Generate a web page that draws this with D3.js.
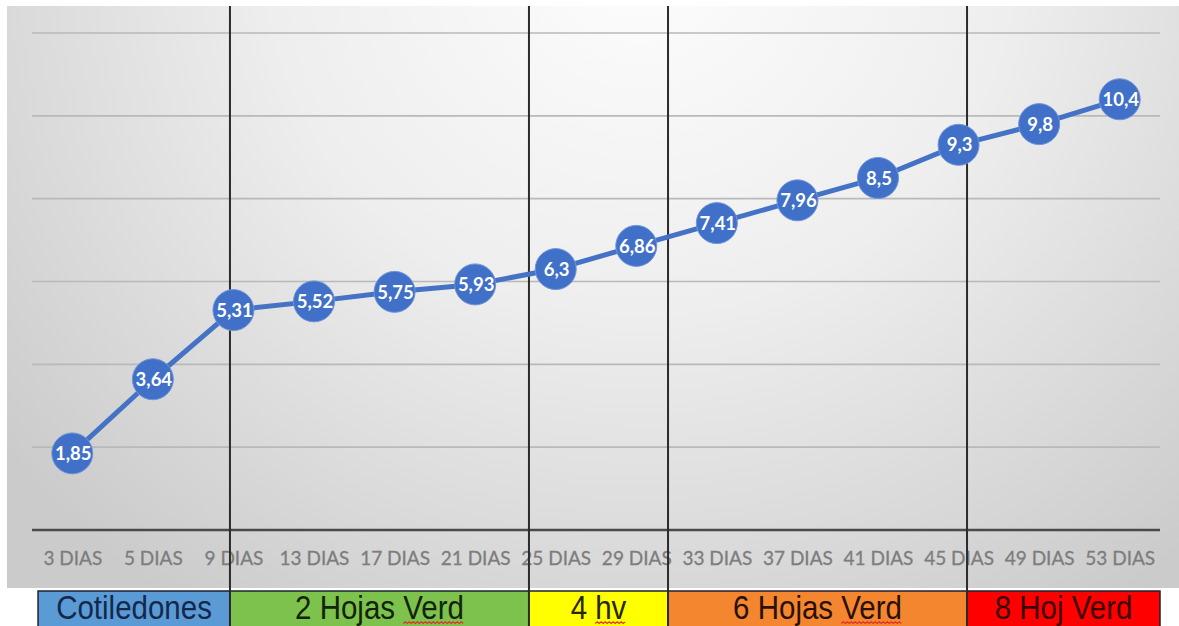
<!DOCTYPE html>
<html>
<head>
<meta charset="utf-8">
<script src="https://cdn.jsdelivr.net/npm/d3@7"></script>
<style>
  html, body { margin: 0; padding: 0; background: #ffffff; }
  svg { display: block; }
</style>
</head>
<body>
<svg id="chart" width="1179" height="626"></svg>
<script>
// Sampling days and plant height per sample
const categories = ["3 DIAS", "5 DIAS", "9 DIAS", "13 DIAS", "17 DIAS", "21 DIAS", "25 DIAS",
                    "29 DIAS", "33 DIAS", "37 DIAS", "41 DIAS", "45 DIAS", "49 DIAS", "53 DIAS"];
const values = [1.85, 3.64, 5.31, 5.52, 5.75, 5.93, 6.3, 6.86, 7.41, 7.96, 8.5, 9.3, 9.8, 10.4];
const yTicks = [0, 2, 4, 6, 8, 10, 12];

// Phenological stages (boundaries given in category-index units)
const stageNames = ["Cotiledones", "2 Hojas Verd", "4 hv", "6 Hojas Verd", "8 Hoj Verd"];
const stageStart = [-0.425, 1.957, 5.668, 7.394, 11.105];
const stageEnd = [1.957, 5.668, 7.394, 11.105, 13.5];
const stageColors = ["#5b9bd5", "#7cc24c", "#ffff00", "#f4862f", "#ff0000"];
const stageTextColors = ["#13294b", "#14230c", "#262600", "#2a1000", "#3a0000"];
// words flagged by the spell checker (stage index, word)
const flaggedWords = [[1, "Verd"], [2, "hv"], [3, "Verd"]];

const svg = d3.select("#chart");
const W = 1179, H = 626;

const plotLeft = 32, plotRight = 1160, plotTop = 33, plotBottom = 530;

const x = d3.scalePoint().domain(categories).range([plotLeft, plotRight]).padding(0.5);
const step = x.step();
// continuous index -> pixel, consistent with the point scale
const xi = d3.scaleLinear().domain([0, 1]).range([x(categories[0]), x(categories[0]) + step]);
const y = d3.scaleLinear().domain([0, 12]).range([plotBottom, plotTop]);

// Background panel gradient
const defs = svg.append("defs");
const grad = defs.append("radialGradient")
  .attr("id", "bg").attr("gradientUnits", "userSpaceOnUse")
  .attr("cx", 640).attr("cy", -40).attr("r", 820)
  .attr("gradientTransform", "translate(640,-40) scale(1,0.95) translate(-640,40)");
grad.append("stop").attr("offset", 0).attr("stop-color", "#fdfdfd");
grad.append("stop").attr("offset", 0.45).attr("stop-color", "#eeeeee");
grad.append("stop").attr("offset", 1).attr("stop-color", "#cbcbcb");

svg.append("rect")
  .attr("x", 7).attr("y", 6).attr("width", W - 7).attr("height", 582)
  .attr("fill", "url(#bg)");

// Horizontal gridlines
svg.append("g")
  .selectAll("line")
  .data(yTicks.filter(d => d > 0))
  .join("line")
  .attr("x1", plotLeft).attr("x2", plotRight)
  .attr("y1", d => y(d)).attr("y2", d => y(d))
  .attr("stroke", "#b9b9b9").attr("stroke-width", 1.6);

// Category axis
const xAxis = svg.append("g")
  .attr("transform", `translate(0,${plotBottom})`)
  .call(d3.axisBottom(x).tickSize(0).tickPadding(0));
xAxis.select(".domain")
  .attr("d", `M${plotLeft},0H${plotRight}`)
  .attr("stroke", "#4a4a4a").attr("stroke-width", 2.6);
xAxis.selectAll(".tick text")
  .attr("y", 35).attr("dy", null)
  .attr("fill", "#7d7d7d")
  .attr("font-family", "Lato, 'Open Sans', sans-serif")
  .attr("font-size", 19)
  .attr("stroke", "#7d7d7d").attr("stroke-width", 0.3);

// Stage band
const bandTop = 591, bandBottom = 628;
const band = svg.append("g");
band.selectAll("rect")
  .data(stageNames)
  .join("rect")
  .attr("x", (d, i) => xi(stageStart[i]))
  .attr("y", bandTop)
  .attr("width", (d, i) => xi(stageEnd[i]) - xi(stageStart[i]))
  .attr("height", bandBottom - bandTop)
  .attr("fill", (d, i) => stageColors[i])
  .attr("stroke", "#1e2230").attr("stroke-width", 1.5);

const bandText = band.selectAll("text")
  .data(stageNames)
  .join("text")
  .attr("transform", (d, i) => `translate(${(xi(stageStart[i]) + xi(stageEnd[i])) / 2},619) scale(1,1.1)`)
  .attr("text-anchor", "middle")
  .attr("font-family", "'Liberation Sans', Arial, sans-serif")
  .attr("font-size", 29.5)
  .attr("fill", (d, i) => stageTextColors[i])
  .text(d => d);

// Red wavy spell-check underlines
bandText.each(function(d, i) {
  const node = this;
  flaggedWords.filter(f => f[0] === i).forEach(f => {
    const start = d.lastIndexOf(f[1]);
    const total = node.getComputedTextLength();
    const pre = node.getSubStringLength(0, start);
    const len = node.getSubStringLength(start, f[1].length);
    const cx = (xi(stageStart[i]) + xi(stageEnd[i])) / 2;
    const x0 = cx - total / 2 + pre;
    const x1 = x0 + len;
    let p = `M${x0},623.5`;
    let k = 0;
    for (let xx = x0 + 2; xx <= x1; xx += 2, k++) {
      p += `L${xx},${k % 2 === 0 ? 621.8 : 623.5}`;
    }
    band.append("path").attr("d", p).attr("fill", "none")
      .attr("stroke", "#e0302a").attr("stroke-width", 1.1);
  });
});

// Stage divider lines
svg.append("g")
  .selectAll("line")
  .data(stageStart.slice(1))
  .join("line")
  .attr("x1", d => xi(d)).attr("x2", d => xi(d))
  .attr("y1", 6).attr("y2", H)
  .attr("stroke", "#2b2b2b").attr("stroke-width", 2);

// Series line
const line = d3.line()
  .x((d, i) => x(categories[i]))
  .y(d => y(d));
svg.append("path")
  .datum(values)
  .attr("d", line)
  .attr("fill", "none")
  .attr("stroke", "#4472c4")
  .attr("stroke-width", 5)
  .attr("stroke-linejoin", "round");

// Markers
svg.append("g")
  .selectAll("circle")
  .data(values)
  .join("circle")
  .attr("cx", (d, i) => x(categories[i]))
  .attr("cy", d => y(d))
  .attr("r", 20.5)
  .attr("fill", "#4070c8")
  .attr("stroke", "#6f95d8").attr("stroke-width", 1);

// Data labels
const fmt = v => String(v).replace(".", ",");
svg.append("g")
  .selectAll("text")
  .data(values)
  .join("text")
  .attr("x", (d, i) => x(categories[i]) + 1)
  .attr("y", d => y(d))
  .attr("dy", "0.36em")
  .attr("text-anchor", "middle")
  .attr("font-family", "Lato, 'Open Sans', sans-serif")
  .attr("font-weight", "bold")
  .attr("font-size", 18.5)
  .attr("fill", "#ffffff")
  .text(fmt);
</script>
</body>
</html>
